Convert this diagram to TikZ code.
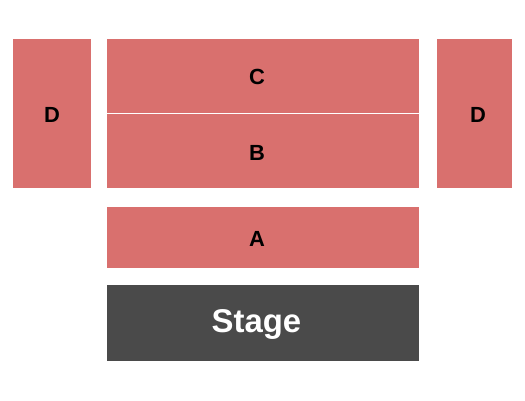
\documentclass[tikz,border=0pt]{standalone}
\usepackage{fontspec}
\setmainfont{Liberation Sans}
\usetikzlibrary{positioning}
\definecolor{seatred}{HTML}{D9706E}
\definecolor{stagegrey}{HTML}{4A4A4A}
\tikzset{
	section/.style={fill=seatred, inner sep=0pt, outer sep=0pt},
	seclabel/.style={font=\fontsize{22}{22}\selectfont\bfseries, text=black, inner sep=0pt}
}
\begin{document}
\begin{tikzpicture}[x=1bp, y=-1bp]
	\useasboundingbox (0,0) rectangle (525,400);
	% Sections
	\node[section, minimum width=78bp, minimum height=149bp] (Dleft) at (52,113.5) {};
	\node[section, minimum width=312bp, minimum height=74bp] (C) at (263,76) {};
	\node[section, minimum width=312bp, minimum height=74bp] (B) at (263,151) {};
	\node[section, minimum width=75bp, minimum height=149bp] (Dright) at (474.5,113.5) {};
	\node[section, minimum width=312bp, minimum height=61bp] (A) at (263,237.5) {};
	\node[fill=stagegrey, inner sep=0pt, minimum width=312bp, minimum height=76bp] (Stage) at (263,323) {};
	% Labels
	\node[seclabel] (lDleft) at (52,115) {D};
	\node[seclabel] (lC) at (257,77) {C};
	\node[seclabel] (lB) at (257,153) {B};
	\node[seclabel] (lDright) at (478,115) {D};
	\node[seclabel] (lA) at (257,239) {A};
	\node[font=\fontsize{33}{33}\selectfont\bfseries, text=white, inner sep=0pt] (lStage) at (256.5,324.5) {Stage};
\end{tikzpicture}
\end{document}
